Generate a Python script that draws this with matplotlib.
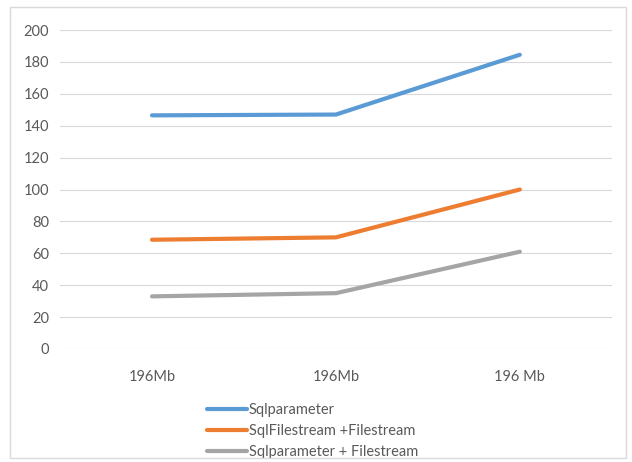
import matplotlib.pyplot as plt
from matplotlib.patches import Rectangle

categories = ['196Mb', '196Mb', '196 Mb']
sqlparameter = [146.5, 147, 184.5]
sqlfilestream = [68.5, 70, 100]
sqlparam_filestream = [33, 35, 61]

plt.rcParams['font.family'] = ['Lato', 'DejaVu Sans']

fig = plt.figure(figsize=(6.32, 4.62), dpi=100)
fig.patches.append(Rectangle((0.016, 0.008), 0.974, 0.977, transform=fig.transFigure,
                             fill=False, edgecolor='#d9d9d9', linewidth=1))
ax = fig.add_axes([0.095, 0.2446, 0.873, 0.6904])

x = list(range(len(categories)))
ax.plot(x, sqlparameter, color='#5B9BD5', linewidth=3, label='Sqlparameter', solid_capstyle='round')
ax.plot(x, sqlfilestream, color='#ED7D31', linewidth=3, label='SqlFilestream +Filestream', solid_capstyle='round')
ax.plot(x, sqlparam_filestream, color='#A5A5A5', linewidth=3, label='Sqlparameter + Filestream', solid_capstyle='round')

ax.set_xlim(-0.5, len(categories) - 0.5)
ax.set_ylim(0, 200)
ax.set_yticks(range(0, 201, 20))
ax.set_xticks(x)
ax.set_xticklabels(categories)
ax.grid(axis='y', color='#d9d9d9', linewidth=0.8)
ax.set_axisbelow(True)
for s in ax.spines.values():
    s.set_visible(False)
ax.tick_params(length=0, labelsize=10.5, colors='#595959')
ax.tick_params(axis='y', pad=8)
ax.tick_params(axis='x', pad=15)

ax.legend(loc='upper left', bbox_to_anchor=(0.255, -0.15), frameon=False, fontsize=10.5,
          labelcolor='#595959', handlelength=2.8, handletextpad=0.1, labelspacing=0.5,
          borderaxespad=0)

fig.savefig('out.png', dpi=100)
